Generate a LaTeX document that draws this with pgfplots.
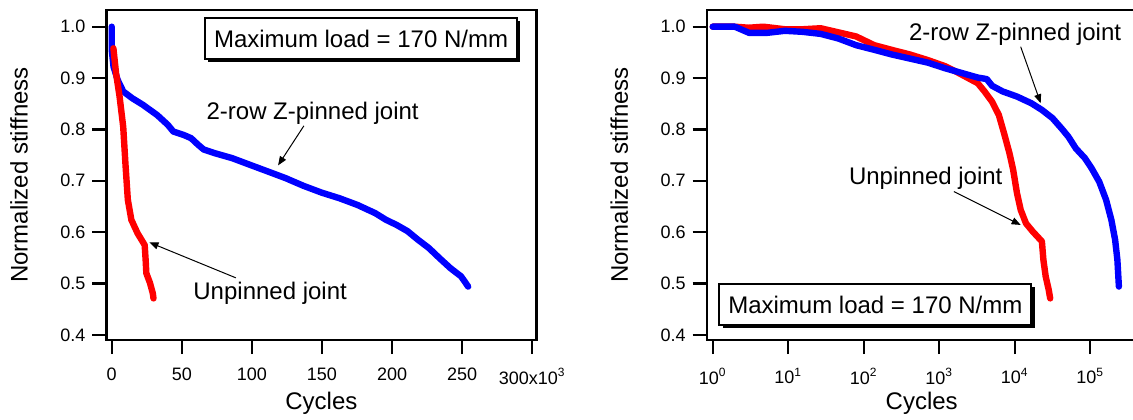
\documentclass[border=0pt]{standalone}
\usepackage{fontspec}
\setmainfont{Liberation Sans}
\usepackage{pgfplots}
\pgfplotsset{compat=1.18}
\usetikzlibrary{arrows.meta,shadows}

\pgfplotsset{
  panel/.style={
    scale only axis, width=215pt, height=165pt,
    axis line style={line width=1.1pt},
    tick align=outside, xtick pos=left, ytick pos=left,
    major tick length=7pt,
    every tick/.style={black, line width=1.1pt},
    ymin=0.390, ymax=1.0325,
    ytick={0.4,0.5,0.6,0.7,0.8,0.9,1.0},
    yticklabels={0.4,0.5,0.6,0.7,0.8,0.9,1.0},
    ticklabel style={font=\fontsize{9}{10}\selectfont},
    xticklabel style={yshift=-3.5pt},
    xlabel={Cycles}, ylabel={Normalized stiffness},
    every axis x label/.style={at={(axis description cs:0.5,-0.2091)}, anchor=base, font=\fontsize{12}{14}\selectfont},
    every axis y label/.style={at={(axis description cs:-0.2033,0.5)}, anchor=center, rotate=90, font=\fontsize{12}{14}\selectfont},
  },
  curve/.style={line width=3.2pt, line join=round, line cap=round},
}
\tikzset{
  note/.style={anchor=base west, inner sep=0pt, font=\fontsize{12}{14}\selectfont},
  loadbox/.style={draw, line width=1pt, fill=white, minimum width=156pt, minimum height=20.5pt, inner sep=0pt,
    font=\fontsize{12}{14}\selectfont,
    drop shadow={shadow xshift=1.6pt, shadow yshift=-1.6pt, fill=black, opacity=1}},
  pointer/.style={line width=0.5pt, -{Triangle[length=4.5pt,width=3.5pt]}},
}

\begin{document}
\begin{tikzpicture}
\useasboundingbox (0,0) rectangle (566.5pt,209.5pt);

% linear cycles (x 1000)
\begin{axis}[panel, at={(53.2pt,39.5pt)}, anchor=south west,
  xmin=-3.8, xmax=303,
  xtick={0,50,100,150,200,250,300},
  xticklabels={0,50,100,150,200,250,{300x10\textsuperscript{3}}},
]
\addplot[curve, blue] coordinates {
  (0,1.0) (0,0.955) (1.3,0.922) (4.3,0.896) (8.2,0.874) (14.5,0.861) (22.2,0.848)
  (32.4,0.828) (40,0.809) (43.9,0.796) (51.5,0.789) (56.6,0.783) (61.7,0.770)
  (65.6,0.761) (73.2,0.754) (86,0.744) (98.7,0.731) (111.5,0.718) (124.2,0.705)
  (137,0.690) (149.7,0.677) (162.5,0.666) (175.3,0.653) (188,0.637) (195.7,0.624)
  (203.3,0.614) (211,0.602) (218.6,0.585) (226.3,0.569) (234,0.549) (241.6,0.530)
  (249.2,0.514) (251.8,0.504) (254.3,0.494)};
\addplot[curve, red] coordinates {
  (1.2,0.958) (3.1,0.909) (5.6,0.864) (8.2,0.805) (9.9,0.728) (11.5,0.663)
  (14,0.624) (18.4,0.598) (23.5,0.575) (24.2,0.546) (24.7,0.520) (27.3,0.501)
  (29.3,0.481) (29.8,0.471)};
\node[note] at (axis cs:67.4,0.820) {2-row Z-pinned joint};
\draw[pointer] (axis cs:137.1,0.807) -- (axis cs:118.7,0.730);
\node[note] at (axis cs:58,0.468) {Unpinned joint};
\draw[pointer] (axis cs:88.6,0.511) -- (axis cs:26.9,0.580);
\node[loadbox] at (axis cs:177.9,0.9765) {Maximum load = 170 N/mm};
\end{axis}

% log cycles
\begin{axis}[panel, at={(353.35pt,39.5pt)}, anchor=south west,
  xmode=log, xmin=0.833, xmax=413000, xminorticks=false,
  xtick={1,10,100,1000,10000,100000},
  xticklabels={10\textsuperscript{0},10\textsuperscript{1},10\textsuperscript{2},10\textsuperscript{3},10\textsuperscript{4},10\textsuperscript{5}},
]
\addplot[curve, red] coordinates {
  (1,1.0) (1.96,1.0) (3.02,0.998) (4.68,1.0) (9.04,0.995) (15.5,0.995) (26.9,0.997)
  (46.2,0.989) (79.4,0.981) (138,0.964) (234,0.955) (407,0.946) (708,0.935)
  (1202,0.923) (1698,0.912) (2344,0.901) (3236,0.890) (3981,0.874) (5012,0.854)
  (6166,0.828) (7244,0.792) (8511,0.754) (9550,0.721) (10715,0.676) (12023,0.643)
  (14125,0.617) (17378,0.601) (22909,0.582) (23988,0.546) (25704,0.514)
  (28184,0.488) (29512,0.471)};
\addplot[curve, blue] coordinates {
  (1,1.0) (1.96,1.0) (2.44,0.994) (3.03,0.988) (5.24,0.988) (9.04,0.992) (15.5,0.99)
  (26.9,0.986) (46.2,0.977) (79.4,0.964) (138,0.955) (234,0.946) (407,0.938)
  (708,0.930) (1202,0.919) (2089,0.909) (3236,0.901) (4266,0.898) (5012,0.885)
  (6918,0.874) (10715,0.864) (16596,0.851) (22909,0.838) (31623,0.822) (41687,0.802)
  (51286,0.786) (64565,0.763) (85114,0.744) (104713,0.724) (131826,0.698)
  (162181,0.663) (190546,0.624) (213796,0.585) (229087,0.546) (239883,0.494)};
\node[note] at (axis cs:393.6,0.974) {2-row Z-pinned joint};
\draw[pointer] (axis cs:12000,0.961) -- (axis cs:22090,0.851);
\node[note] at (axis cs:63.1,0.692) {Unpinned joint};
\draw[pointer] (axis cs:1567,0.679) -- (axis cs:12000,0.614);
\node[loadbox] at (axis cs:142.6,0.4586) {Maximum load = 170 N/mm};
\end{axis}
\end{tikzpicture}
\end{document}
